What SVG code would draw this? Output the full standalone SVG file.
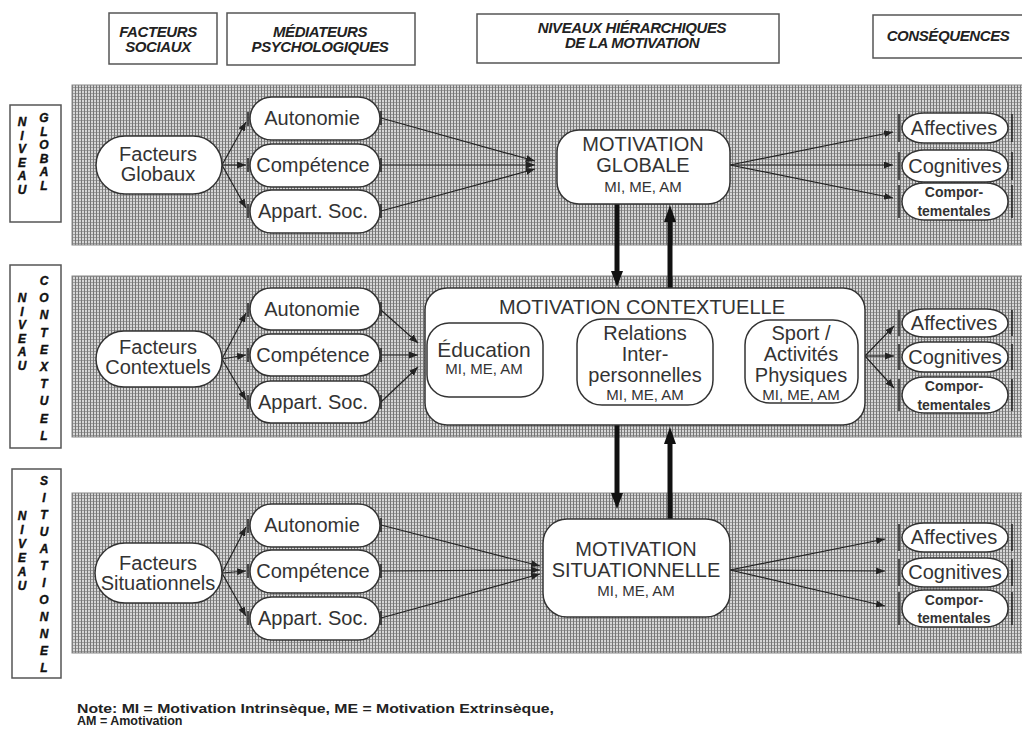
<svg xmlns="http://www.w3.org/2000/svg" width="1022" height="729" viewBox="0 0 1022 729">
<defs>
<pattern id="grid" width="3" height="3" patternUnits="userSpaceOnUse">
<rect width="3" height="3" fill="#d6d6d6"/>
<rect width="3" height="1" fill="#9c9c9c"/>
<rect width="1" height="3" fill="#767676"/>
</pattern>
<marker id="ah" markerWidth="9" markerHeight="7" refX="9" refY="3.5" orient="auto" markerUnits="userSpaceOnUse">
<path d="M0,0 L9,3.5 L0,7 z" fill="#222"/>
</marker>
<marker id="ahs" markerWidth="9" markerHeight="7" refX="0" refY="3.5" orient="auto" markerUnits="userSpaceOnUse">
<path d="M9,0 L0,3.5 L9,7 z" fill="#222"/>
</marker>
<marker id="bar" markerWidth="2" markerHeight="9" refX="1" refY="4.5" orient="auto" markerUnits="userSpaceOnUse">
<rect width="2" height="9" fill="#222"/>
</marker>
</defs>
<style>
.band{fill:url(#grid);stroke:#888;stroke-width:1}
.node{fill:#fff;stroke:#333;stroke-width:1.5}
.hdr{fill:#fff;stroke:#555;stroke-width:1.5}
.t{font-family:"Liberation Sans",Arial,sans-serif;fill:#333;text-anchor:middle;font-size:20px}
.s15{font-size:15px}
.hb{font-family:"Liberation Sans",Arial,sans-serif;font-weight:bold;font-style:italic;font-size:15px;fill:#222;text-anchor:middle;letter-spacing:-0.4px}
.vl{font-family:"Liberation Sans",Arial,sans-serif;font-weight:bold;font-style:italic;font-size:12px;fill:#111;stroke:#111;stroke-width:0.4;text-anchor:middle}
.cp{font-family:"Liberation Sans",Arial,sans-serif;font-weight:bold;font-size:14px;fill:#333;text-anchor:middle}
.conn{stroke:#222;stroke-width:1.2;fill:none}
.tick{stroke:#222;stroke-width:1.5}
.thick{stroke:#111;stroke-width:5}
.note{font-family:"Liberation Sans",Arial,sans-serif;font-weight:bold;font-size:12.5px;fill:#222}
</style>

<!-- headers -->
<g id="hdr-facteurs"><rect class="hdr" x="109" y="13" width="108" height="51"/><text class="hb" x="158" y="37">FACTEURS</text><text class="hb" x="158" y="52">SOCIAUX</text></g>
<g id="hdr-mediateurs"><rect class="hdr" x="227" y="13" width="188" height="52"/><text class="hb" x="320" y="37">MÉDIATEURS</text><text class="hb" x="320" y="52">PSYCHOLOGIQUES</text></g>
<g id="hdr-niveaux"><rect class="hdr" x="477" y="14" width="302" height="49"/><text class="hb" x="632" y="33">NIVEAUX HIÉRARCHIQUES</text><text class="hb" x="632" y="48">DE LA MOTIVATION</text></g>
<g id="hdr-consequences"><rect class="hdr" x="873" y="15" width="160" height="43"/><text class="hb" x="948" y="41">CONSÉQUENCES</text></g>

<!-- bands -->
<rect id="band-global" class="band" x="72" y="85" width="960" height="160"/>
<rect id="band-contextuel" class="band" x="72" y="276" width="960" height="161"/>
<rect id="band-situationnel" class="band" x="72" y="493" width="960" height="160"/>

<!-- level labels -->
<g id="lbl-global"><rect class="hdr" x="10" y="105" width="51" height="117"/>
<text class="vl" x="22" y="126">N</text><text class="vl" x="22" y="139.5">I</text><text class="vl" x="22" y="153">V</text><text class="vl" x="22" y="166.5">E</text><text class="vl" x="22" y="180">A</text><text class="vl" x="22" y="193.5">U</text>
<text class="vl" x="44" y="122">G</text><text class="vl" x="44" y="135.5">L</text><text class="vl" x="44" y="149">O</text><text class="vl" x="44" y="162.5">B</text><text class="vl" x="44" y="176">A</text><text class="vl" x="44" y="189.5">L</text></g>
<g id="lbl-contextuel"><rect class="hdr" x="10" y="265" width="51" height="183"/>
<text class="vl" x="22" y="302">N</text><text class="vl" x="22" y="315.5">I</text><text class="vl" x="22" y="329">V</text><text class="vl" x="22" y="342.5">E</text><text class="vl" x="22" y="356">A</text><text class="vl" x="22" y="369.5">U</text>
<text class="vl" x="44" y="285">C</text><text class="vl" x="44" y="302">O</text><text class="vl" x="44" y="319">N</text><text class="vl" x="44" y="337">T</text><text class="vl" x="44" y="354">E</text><text class="vl" x="44" y="371">X</text><text class="vl" x="44" y="388">T</text><text class="vl" x="44" y="405">U</text><text class="vl" x="44" y="423">E</text><text class="vl" x="44" y="440">L</text></g>
<g id="lbl-situationnel"><rect class="hdr" x="12" y="469" width="49" height="209"/>
<text class="vl" x="22" y="520">N</text><text class="vl" x="22" y="534">I</text><text class="vl" x="22" y="548">V</text><text class="vl" x="22" y="562">E</text><text class="vl" x="22" y="576">A</text><text class="vl" x="22" y="590">U</text>
<text class="vl" x="44" y="485">S</text><text class="vl" x="44" y="502">I</text><text class="vl" x="44" y="519">T</text><text class="vl" x="44" y="536">U</text><text class="vl" x="44" y="553">A</text><text class="vl" x="44" y="570">T</text><text class="vl" x="44" y="587">I</text><text class="vl" x="44" y="604">O</text><text class="vl" x="44" y="621">N</text><text class="vl" x="44" y="638">N</text><text class="vl" x="44" y="655">E</text><text class="vl" x="44" y="672">L</text></g>

<!-- connectors -->
<g id="connectors">
<!-- band 1 -->
<path class="conn" marker-end="url(#ah)" d="M222,165 L246,122"/>
<path class="conn" marker-end="url(#ah)" d="M222,165 L246,165"/>
<path class="conn" marker-end="url(#ah)" d="M222,165 L246,208"/>
<path class="conn" marker-end="url(#ah)" d="M381,118 L535,161"/>
<path class="conn" marker-end="url(#ah)" d="M381,165 L535,165"/>
<path class="conn" marker-end="url(#ah)" d="M381,211 L535,169"/>
<path class="conn" marker-end="url(#ah)" d="M730,165 L893,132"/>
<path class="conn" marker-end="url(#ah)" d="M730,165 L893,165"/>
<path class="conn" marker-end="url(#ah)" d="M730,165 L893,198"/>
<!-- band 2 -->
<path class="conn" marker-end="url(#ah)" d="M222,359 L246,313"/>
<path class="conn" marker-end="url(#ah)" d="M222,359 L246,355"/>
<path class="conn" marker-end="url(#ah)" d="M222,359 L246,400"/>
<path class="conn" marker-end="url(#ah)" d="M381,310 L418,343"/>
<path class="conn" marker-end="url(#ah)" d="M381,355 L418,355"/>
<path class="conn" marker-end="url(#ah)" d="M381,402 L418,367"/>
<path class="conn" marker-end="url(#ah)" d="M865,356 L894,326"/>
<path class="conn" marker-end="url(#ah)" d="M865,356 L894,356"/>
<path class="conn" marker-end="url(#ah)" d="M865,356 L894,388"/>
<path class="conn" marker-start="url(#ahs)" marker-end="url(#ah)" d="M547,356 L572,356"/>
<path class="conn" marker-start="url(#bar)" marker-end="url(#ah)" d="M723,356 L743,356"/>
<path class="conn" d="M482,416 L803,416"/>
<path class="conn" marker-end="url(#ah)" d="M482,416 L482,398"/>
<path class="conn" marker-end="url(#ah)" d="M803,416 L803,404"/>
<!-- band 3 -->
<path class="conn" marker-end="url(#ah)" d="M222,573 L246,527"/>
<path class="conn" marker-end="url(#ah)" d="M222,573 L246,571"/>
<path class="conn" marker-end="url(#ah)" d="M222,573 L246,616"/>
<path class="conn" marker-end="url(#ah)" d="M381,525 L540,566"/>
<path class="conn" marker-end="url(#ah)" d="M381,571 L540,570"/>
<path class="conn" marker-end="url(#ah)" d="M381,618 L540,574"/>
<path class="conn" marker-end="url(#ah)" d="M730,570 L885,539"/>
<path class="conn" marker-end="url(#ah)" d="M730,570 L885,571"/>
<path class="conn" marker-end="url(#ah)" d="M730,570 L885,606"/>
<!-- thick vertical arrows -->
<line class="thick" x1="617" y1="204" x2="617" y2="273"/><polygon points="611,271 623,271 617,287" fill="#111"/>
<line class="thick" x1="670" y1="288" x2="670" y2="220"/><polygon points="664,222 676,222 670,205" fill="#111"/>
<line class="thick" x1="617" y1="425" x2="617" y2="495"/><polygon points="611,493 623,493 617,509" fill="#111"/>
<line class="thick" x1="670" y1="519" x2="670" y2="442"/><polygon points="664,444 676,444 670,427" fill="#111"/>
<!-- ticks on mediators -->
<path class="tick" d="M248,112 V126 M381,111 V125 M248,158 V172 M381,158 V172 M248,204 V218 M381,204 V218"/>
<path class="tick" d="M248,303 V317 M381,302 V316 M248,348 V362 M381,348 V362 M248,395 V409 M381,395 V409"/>
<path class="tick" d="M248,519 V533 M381,518 V532 M248,564 V578 M381,564 V578 M248,611 V625 M381,611 V625"/>
<!-- ticks on consequences -->
<path class="tick" d="M899,114 V142 M1012,114 V142 M899,152 V180 M1012,152 V180 M899,185 V218 M1012,185 V218"/>
<path class="tick" d="M899,310 V336 M1012,310 V336 M899,344 V370 M1012,344 V370 M899,379 V411 M1012,379 V411"/>
<path class="tick" d="M899,524 V551 M1012,524 V551 M899,559 V586 M1012,559 V586 M899,592 V625 M1012,592 V625"/>
</g>

<!-- band 1 nodes -->
<g id="facteurs-globaux"><rect class="node" x="96" y="136" width="126" height="58" rx="29"/><text class="t" x="158" y="161">Facteurs</text><text class="t" x="158" y="181">Globaux</text></g>
<g id="autonomie-1"><rect class="node" x="250" y="97" width="130" height="43" rx="21.5"/><text class="t" x="312" y="125">Autonomie</text></g>
<g id="competence-1"><rect class="node" x="250" y="144" width="130" height="43" rx="21.5"/><text class="t" x="313" y="172">Compétence</text></g>
<g id="appart-1"><rect class="node" x="250" y="190" width="130" height="43" rx="21.5"/><text class="t" x="313" y="218">Appart. Soc.</text></g>
<g id="motivation-globale"><rect class="node" x="557" y="130" width="173" height="74" rx="22"/><text class="t" x="643" y="151">MOTIVATION</text><text class="t" x="643" y="172">GLOBALE</text><text class="t s15" x="643" y="192">MI, ME, AM</text></g>
<g id="affectives-1"><rect class="node" x="902" y="113" width="106" height="30" rx="22" ry="15"/><text class="t" x="954" y="135">Affectives</text></g>
<g id="cognitives-1"><rect class="node" x="902" y="150" width="106" height="32" rx="22" ry="16"/><text class="t" x="955" y="173">Cognitives</text></g>
<g id="comportementales-1"><rect class="node" x="902" y="183" width="106" height="37" rx="22" ry="18"/><text class="cp" x="954" y="197">Compor-</text><text class="cp" x="954" y="216">tementales</text></g>

<!-- band 2 nodes -->
<g id="facteurs-contextuels"><rect class="node" x="96" y="331" width="126" height="56" rx="28"/><text class="t" x="158" y="354">Facteurs</text><text class="t" x="158" y="374">Contextuels</text></g>
<g id="autonomie-2"><rect class="node" x="250" y="288" width="130" height="42" rx="21"/><text class="t" x="312" y="316">Autonomie</text></g>
<g id="competence-2"><rect class="node" x="250" y="334" width="130" height="42" rx="21"/><text class="t" x="313" y="362">Compétence</text></g>
<g id="appart-2"><rect class="node" x="250" y="381" width="130" height="42" rx="21"/><text class="t" x="313" y="409">Appart. Soc.</text></g>
<g id="motivation-contextuelle"><rect class="node" x="425" y="288" width="440" height="137" rx="22"/><text class="t" x="642" y="314">MOTIVATION CONTEXTUELLE</text></g>
<g id="education"><rect class="node" x="427" y="323" width="116" height="74" rx="22"/><text class="t" x="484" y="357" style="font-size:21px">Éducation</text><text class="t s15" x="484" y="374">MI, ME, AM</text></g>
<g id="relations"><rect class="node" x="577" y="319" width="136" height="86" rx="25"/><text class="t" x="645" y="340">Relations</text><text class="t" x="645" y="361">Inter-</text><text class="t" x="645" y="382">personnelles</text><text class="t s15" x="645" y="400">MI, ME, AM</text></g>
<g id="sport"><rect class="node" x="745" y="320" width="113" height="83" rx="25"/><text class="t" x="801" y="340">Sport /</text><text class="t" x="801" y="361">Activités</text><text class="t" x="801" y="382">Physiques</text><text class="t s15" x="801" y="400">MI, ME, AM</text></g>
<g id="affectives-2"><rect class="node" x="902" y="309" width="106" height="28" rx="22" ry="14"/><text class="t" x="954" y="330">Affectives</text></g>
<g id="cognitives-2"><rect class="node" x="902" y="342" width="106" height="30" rx="22" ry="15"/><text class="t" x="955" y="364">Cognitives</text></g>
<g id="comportementales-2"><rect class="node" x="902" y="377" width="106" height="36" rx="22" ry="18"/><text class="cp" x="954" y="391">Compor-</text><text class="cp" x="954" y="410">tementales</text></g>

<!-- band 3 nodes -->
<g id="facteurs-situationnels"><rect class="node" x="95" y="543" width="127" height="60" rx="30"/><text class="t" x="158" y="570">Facteurs</text><text class="t" x="158" y="590">Situationnels</text></g>
<g id="autonomie-3"><rect class="node" x="250" y="504" width="130" height="43" rx="21.5"/><text class="t" x="312" y="532">Autonomie</text></g>
<g id="competence-3"><rect class="node" x="250" y="550" width="130" height="43" rx="21.5"/><text class="t" x="313" y="578">Compétence</text></g>
<g id="appart-3"><rect class="node" x="250" y="597" width="130" height="43" rx="21.5"/><text class="t" x="313" y="625">Appart. Soc.</text></g>
<g id="motivation-situationnelle"><rect class="node" x="543" y="519" width="187" height="98" rx="24"/><text class="t" x="636" y="556">MOTIVATION</text><text class="t" x="636" y="577">SITUATIONNELLE</text><text class="t s15" x="636" y="596">MI, ME, AM</text></g>
<g id="affectives-3"><rect class="node" x="902" y="523" width="106" height="29" rx="22" ry="14.5"/><text class="t" x="954" y="544">Affectives</text></g>
<g id="cognitives-3"><rect class="node" x="902" y="558" width="106" height="29" rx="22" ry="14.5"/><text class="t" x="955" y="579">Cognitives</text></g>
<g id="comportementales-3"><rect class="node" x="902" y="590" width="106" height="37" rx="22" ry="18"/><text class="cp" x="954" y="605">Compor-</text><text class="cp" x="954" y="623">tementales</text></g>

<!-- note -->
<g id="note"><text class="note" x="77" y="713" textLength="477" lengthAdjust="spacingAndGlyphs">Note: MI = Motivation Intrinsèque, ME = Motivation Extrinsèque,</text><text class="note" x="77" y="725">AM = Amotivation</text></g>
</svg>
